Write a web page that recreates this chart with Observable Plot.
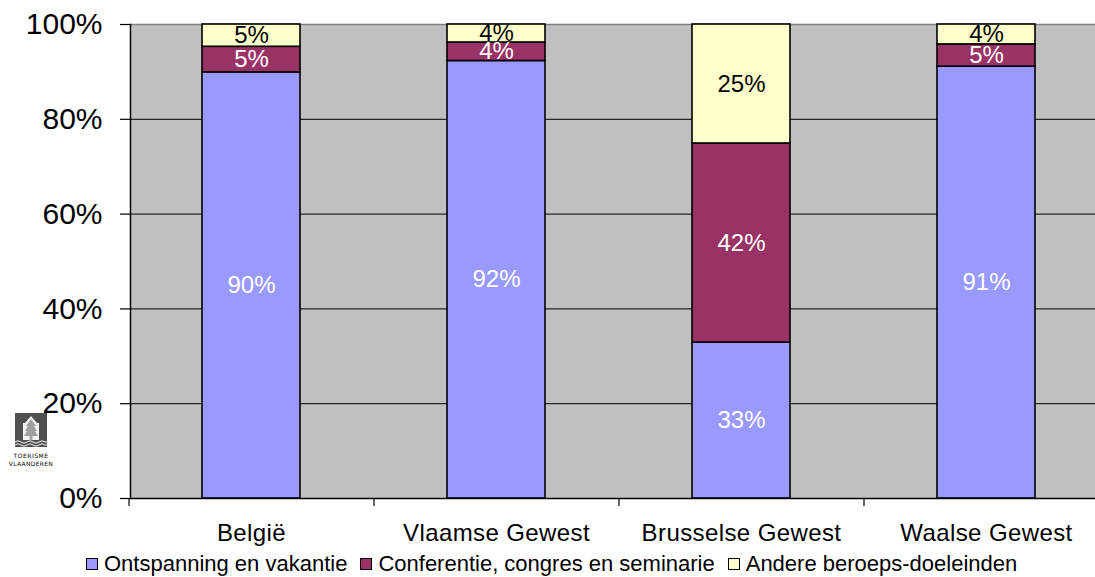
<!DOCTYPE html>
<html>
<head>
<meta charset="utf-8">
<script src="https://cdn.jsdelivr.net/npm/d3@7"></script>
<script src="https://cdn.jsdelivr.net/npm/@observablehq/plot@0.6"></script>
<style>
  html, body { margin: 0; padding: 0; background: #fff; overflow: hidden; }
  #wrap { position: relative; width: 1095px; height: 577px; font-family: "Liberation Sans", Arial, sans-serif; }
  #chart svg { display: block; }
  #legend { position: absolute; left: 86px; top: 551px; display: flex; align-items: center; font-size: 22px; color: #000; white-space: nowrap; }
  #legend .item { display: flex; align-items: center; margin-right: 13px; }
  #legend .sw { width: 12px; height: 12px; border: 1.5px solid #000; margin-right: 6px; box-sizing: border-box; }
  #logo { position: absolute; left: 4px; top: 412px; width: 54px; height: 62px; }
</style>
</head>
<body>
<div id="wrap">
  <div id="chart"></div>
  <svg id="logo" viewBox="0 0 54 62">
    <path d="M11 1 L43 1 L43 35 L11 35 Z" fill="#505050"/>
    <path d="M27 4 L33 11 L35 11 L35 28 L19 28 L19 11 L21 11 Z" fill="#f2f2f2"/>
    <path d="M27 7 L32 14 L30 14 L33 19 L31 19 L34 24 L20 24 L23 19 L21 19 L24 14 L22 14 Z M25.5 24 L28.5 24 L28.5 28 L25.5 28 Z" fill="#a0a0a0"/>
    <path d="M11 30 Q14 27.5 17 30 T23 30 T29 30 T35 30 T41 30 L43 30" stroke="#fff" stroke-width="1" fill="none"/>
    <path d="M11 33 Q14 30.5 17 33 T23 33 T29 33 T35 33 T41 33 L43 33" stroke="#fff" stroke-width="0.9" fill="none"/>
    <text x="27" y="46" text-anchor="middle" font-size="6" font-family="DejaVu Sans, sans-serif" letter-spacing="0.5">TOERISME</text>
    <text x="27" y="54" text-anchor="middle" font-size="6" font-family="DejaVu Sans, sans-serif" letter-spacing="0.3">VLAANDEREN</text>
  </svg>
  <div id="legend"></div>
</div>
<script>
const regions = ["België", "Vlaamse Gewest", "Brusselse Gewest", "Waalse Gewest"];
const seriesNames = ["Ontspanning en vakantie", "Conferentie, congres en seminarie", "Andere beroeps-doeleinden"];
const seriesColors = ["#9999FF", "#993366", "#FFFFCC"];
const ontspanning = [89.9, 92.3, 32.9, 91.1];
const conferentie = [5.4, 3.9, 42.0, 4.7];
const andere = [4.7, 3.8, 25.1, 4.2];
const yTicks = [0, 20, 40, 60, 80, 100];

const seriesValues = [ontspanning, conferentie, andere];
const data = [];
seriesNames.forEach((s, si) => {
  regions.forEach((r, ri) => data.push({region: r, series: s, value: seriesValues[si][ri]}));
});
const label = d => Math.round(d.value) + "%";

const W = 1095, H = 548;
const plot = Plot.plot({
  width: W,
  height: H,
  marginLeft: 130,
  marginRight: 0,
  marginTop: 24,
  marginBottom: 50,
  style: {fontFamily: "Liberation Sans, Arial, sans-serif", background: "transparent", overflow: "hidden"},
  x: {type: "band", domain: regions, range: [128.5, 1108.5], paddingInner: 0.6, paddingOuter: 0.3, align: 0.5, label: null},
  y: {domain: [0, 100], label: null},
  color: {domain: seriesNames, range: seriesColors},
  marks: [
    Plot.frame({fill: "#C0C0C0"}),
    Plot.gridY(yTicks.filter(t => t > 0 && t < 100), {stroke: "#000", strokeOpacity: 1, strokeWidth: 1}),
    Plot.ruleY([100], {stroke: "#808080", strokeWidth: 1.5}),
    Plot.barY(data, {x: "region", y: "value", fill: "series", z: "series", order: seriesNames, stroke: "#000", strokeWidth: 1.6}),
    Plot.text(data, Plot.stackY({x: "region", y: "value", z: "series", order: seriesNames,
      text: d => d.series !== seriesNames[2] ? label(d) : "", fill: "white", fontSize: 24})),
    Plot.text(data, Plot.stackY({x: "region", y: "value", z: "series", order: seriesNames,
      text: d => d.series === seriesNames[2] ? label(d) : "", fill: "black", fontSize: 24})),
    Plot.ruleY([0], {stroke: "#000", strokeWidth: 1.5}),
    Plot.frame({anchor: "left", stroke: "#000", strokeWidth: 1.5}),
    Plot.axisY({ticks: yTicks, tickFormat: d => d + "%", tickSize: 10, tickPadding: 18, fontSize: 30, stroke: "#000", strokeWidth: 1.2, label: null}),
    Plot.axisX({text: null, tickSize: 8, dx: -122.5, stroke: "#000", strokeWidth: 1.2, label: null}),
    Plot.axisX({tickSize: 0, tickPadding: 25, fontSize: 24, label: null, fill: "#000"})
  ]
});
plot.querySelectorAll('g[aria-label="x-axis tick label"] text, g[aria-label="x-axis tick label"]').forEach(e => e.setAttribute("letter-spacing", "0.4"));
document.getElementById("chart").appendChild(plot);

const legend = document.getElementById("legend");
seriesNames.forEach((s, i) => {
  const item = document.createElement("div");
  item.className = "item";
  const sw = document.createElement("div");
  sw.className = "sw";
  sw.style.background = seriesColors[i];
  const t = document.createElement("span");
  t.textContent = s;
  item.appendChild(sw);
  item.appendChild(t);
  legend.appendChild(item);
});
</script>
</body>
</html>
